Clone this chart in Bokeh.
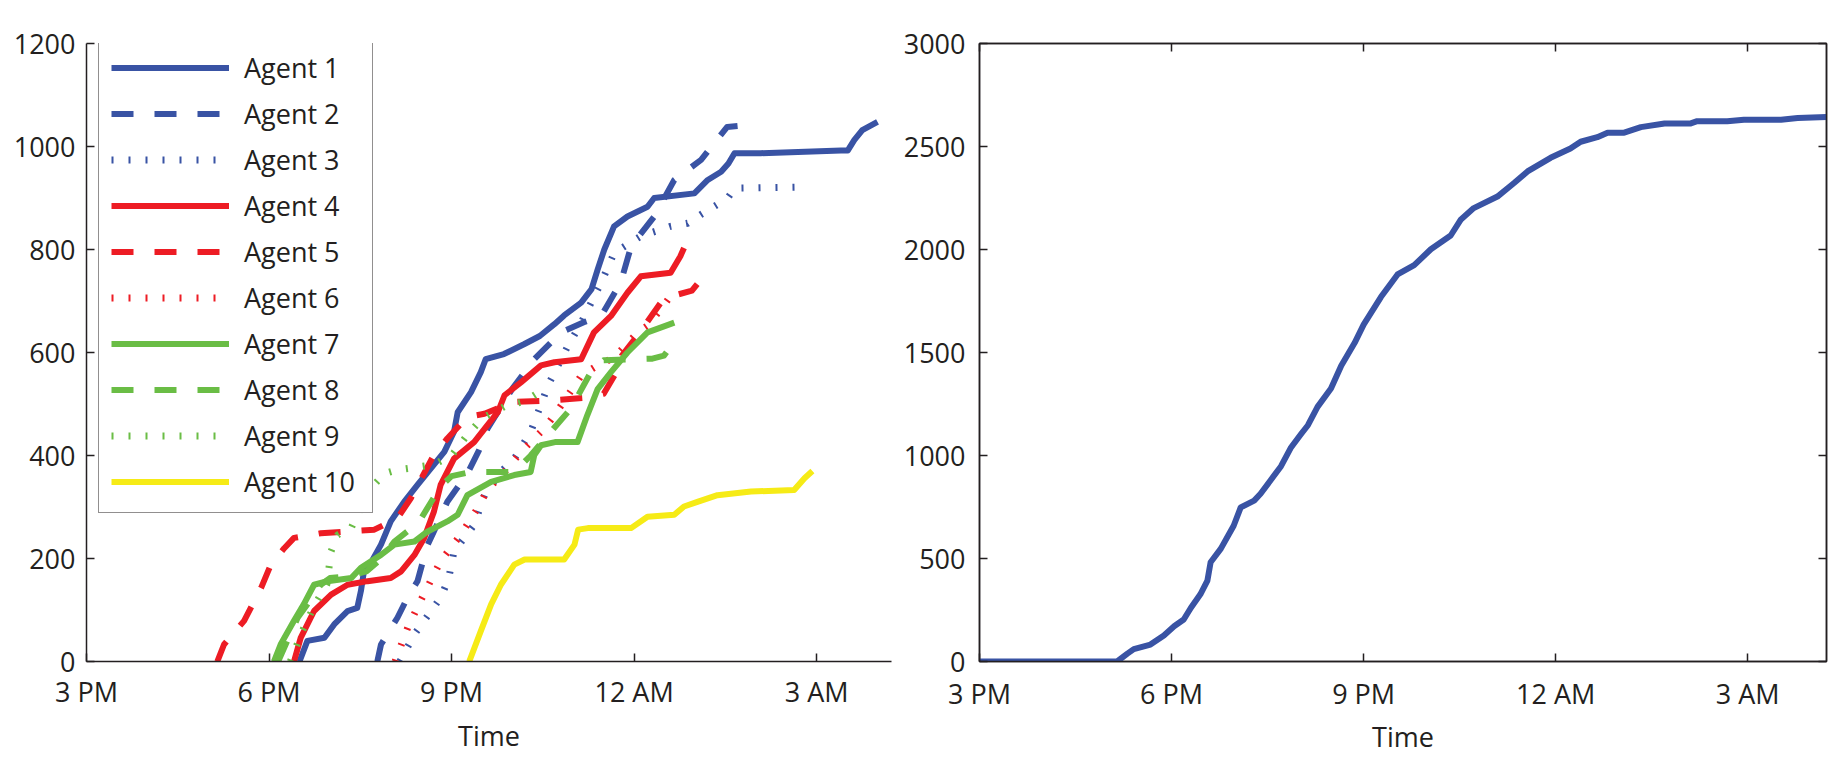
from bokeh.plotting import figure
from bokeh.models import Range1d, FixedTicker, LinearAxis, Legend, LegendItem
from bokeh.layouts import row
from bokeh.embed import file_html
from bokeh.resources import INLINE

# ---------------- data (time in hours; 15 = 3 PM, 24 = 12 AM, 27 = 3 AM) ----------------
x_ticks = [15, 18, 21, 24, 27]
x_tick_labels = ["3 PM", "6 PM", "9 PM", "12 AM", "3 AM"]
left_y_ticks = [0, 200, 400, 600, 800, 1000, 1200]
right_y_ticks = [0, 500, 1000, 1500, 2000, 2500, 3000]

agent_names = ["Agent 1", "Agent 2", "Agent 3", "Agent 4", "Agent 5",
               "Agent 6", "Agent 7", "Agent 8", "Agent 9", "Agent 10"]

a1_t = [18.50, 18.63, 18.91, 19.07, 19.29, 19.45, 19.51, 19.56, 19.70, 19.84, 20.00, 20.22, 20.44,
        20.66, 20.88, 21.04, 21.10, 21.32, 21.48, 21.56, 21.86, 22.19, 22.45, 22.69, 22.85, 23.13,
        23.30, 23.40, 23.51, 23.67, 23.89, 24.22, 24.33, 24.99, 25.21, 25.43, 25.55, 25.65, 26.08,
        27.40, 27.51, 27.62, 27.75, 28.00]
a1_v = [0, 40, 46, 72, 98, 104, 137, 175, 197, 227, 272, 310, 343,
        375, 407, 446, 484, 523, 562, 587, 597, 616, 632, 655, 672, 697,
        723, 761, 800, 845, 864, 883, 900, 909, 935, 951, 967, 987, 987,
        992, 992, 1013, 1032, 1048]

a2_t = [19.78, 19.84, 20.11, 20.30, 20.44, 20.60, 20.70, 20.93, 21.26, 21.45, 21.59, 22.00, 22.36,
        22.80, 23.20, 23.46, 23.78, 23.95, 24.33, 24.66, 25.10, 25.53, 25.70]
a2_v = [0, 33, 85, 130, 156, 225, 250, 310, 365, 410, 452, 530, 587,
        639, 660, 671, 736, 806, 864, 935, 974, 1038, 1040]

a3_t = [20.15, 20.39, 20.82, 20.95, 21.04, 21.37, 21.54, 21.81, 22.03, 22.30, 22.60, 22.90, 23.13,
        23.46, 23.67, 24.11, 24.60, 24.88, 25.10, 25.32, 25.54, 25.65, 26.74]
a3_v = [0, 53, 124, 160, 214, 265, 323, 368, 394, 446, 540, 610, 658,
        736, 793, 826, 845, 851, 868, 884, 900, 919, 921]

a4_t = [18.41, 18.52, 18.74, 19.02, 19.29, 19.62, 20.00, 20.17, 20.39, 20.55, 20.71, 20.82, 21.04,
        21.37, 21.59, 21.76, 21.87, 22.14, 22.47, 22.69, 23.13, 23.34, 23.62, 23.89, 24.11, 24.60,
        24.76, 24.82]
a4_v = [0, 46, 98, 130, 149, 156, 162, 175, 207, 240, 291, 343, 394,
        426, 459, 484, 517, 542, 575, 581, 587, 639, 671, 716, 748, 755,
        787, 803]

a5_t = [17.15, 17.26, 17.59, 17.87, 18.03, 18.25, 18.41, 18.85, 19.73, 20.11, 20.33, 20.71, 20.93,
        21.26, 21.54, 21.75, 22.03, 22.63, 23.20, 23.50, 23.70, 23.80, 24.10, 24.44, 24.70, 24.95,
        25.10]
a5_v = [0, 33, 79, 143, 188, 220, 240, 249, 256, 278, 317, 401, 433,
        475, 481, 491, 504, 507, 512, 520, 560, 594, 640, 697, 712, 720,
        742]

a6_t = [20.07, 20.28, 20.50, 20.82, 21.15, 21.43, 21.60, 21.87, 22.14, 22.52, 22.69, 23.13, 23.40,
        23.67, 24.06, 24.22, 24.44, 24.60, 24.75]
a6_v = [0, 66, 120, 195, 246, 298, 335, 368, 407, 452, 478, 555, 575,
        590, 639, 652, 684, 710, 712]

a7_t = [18.08, 18.19, 18.41, 18.57, 18.74, 18.96, 19.35, 19.51, 19.84, 20.06, 20.39, 20.60, 20.93,
        21.10, 21.26, 21.65, 22.03, 22.30, 22.36, 22.47, 22.70, 23.07, 23.23, 23.40, 23.62, 23.89,
        24.22, 24.66]
a7_v = [0, 33, 79, 111, 149, 156, 162, 182, 207, 227, 233, 252, 272,
        285, 323, 349, 362, 368, 401, 420, 426, 426, 478, 529, 562, 600,
        639, 658]

a8_t = [18.15, 18.30, 18.47, 18.63, 18.85, 19.00, 19.30, 19.60, 19.85, 20.06, 20.30, 20.50, 20.82,
        21.00, 21.32, 22.03, 22.30, 22.58, 22.96, 23.29, 23.50, 24.00, 24.30, 24.49, 24.66]
a8_v = [0, 40, 85, 111, 149, 162, 165, 175, 200, 233, 255, 278, 340,
        360, 368, 368, 400, 439, 491, 562, 585, 587, 588, 594, 620]

a9_t = [18.35, 18.55, 18.75, 18.95, 19.02, 19.13, 19.35, 19.45, 19.70, 19.90, 20.10, 20.35, 20.70,
        21.00, 21.26, 21.50, 21.90, 22.20, 22.40]
a9_v = [0, 60, 110, 150, 214, 246, 259, 285, 340, 365, 372, 376, 382,
        400, 440, 472, 497, 505, 520]

a10_t = [21.29, 21.48, 21.65, 21.81, 22.03, 22.20, 22.85, 23.02, 23.08, 23.24, 23.95, 24.22, 24.66,
         24.82, 25.04, 25.37, 25.92, 26.63, 26.80, 26.93]
a10_v = [0, 59, 111, 149, 188, 198, 198, 227, 256, 259, 259, 281, 285,
         301, 310, 323, 330, 333, 356, 370]

total_t = [15.00, 17.15, 17.31, 17.41, 17.67, 17.88, 18.04, 18.19, 18.30, 18.45, 18.56, 18.61, 18.77,
           18.97, 19.08, 19.29, 19.39, 19.55, 19.71, 19.86, 20.02, 20.13, 20.28, 20.49, 20.65, 20.86,
           21.00, 21.27, 21.53, 21.79, 22.05, 22.36, 22.52, 22.72, 23.09, 23.35, 23.56, 23.92, 24.23,
           24.39, 24.65, 24.81, 25.07, 25.33, 25.70, 26.11, 26.21, 26.68, 26.94, 27.52, 27.78, 28.23]
total_v = [0, 0, 38, 60, 82, 126, 171, 204, 260, 326, 393, 482, 548,
           659, 748, 781, 814, 881, 948, 1036, 1103, 1147, 1236, 1325, 1436, 1547,
           1635, 1769, 1879, 1924, 2001, 2068, 2146, 2201, 2257, 2323, 2379, 2445, 2490,
           2523, 2545, 2567, 2567, 2594, 2612, 2612, 2623, 2623, 2630, 2630, 2638, 2643]

agent_t = [a1_t, a2_t, a3_t, a4_t, a5_t, a6_t, a7_t, a8_t, a9_t, a10_t]
agent_v = [a1_v, a2_v, a3_v, a4_v, a5_v, a6_v, a7_v, a8_v, a9_v, a10_v]

# ---------------- styles ----------------
BLUE, RED, GREEN, YELLOW = "#3953a4", "#ed1c24", "#6abd45", "#f6eb16"
INK = "#231f20"
FONT = "Open Sans"
FS = "27px"
agent_colors = [BLUE, BLUE, BLUE, RED, RED, RED, GREEN, GREEN, GREEN, YELLOW]
SOLID, DASH, DOT = "solid", "22 21", "2 15"
agent_dash = [SOLID, DASH, DOT, SOLID, DASH, DOT, SOLID, DASH, DOT, SOLID]
agent_width = [6, 6, 7, 6, 6, 7, 6, 6, 7, 6]

X0, X1 = 15, 28.23
overrides = {t: s for t, s in zip(x_ticks, x_tick_labels)}


def style_axis(ax, ticks, labels=True):
    ax.ticker = FixedTicker(ticks=ticks)
    ax.axis_line_color = INK
    ax.axis_line_width = 1.5
    ax.major_tick_line_color = INK
    ax.major_tick_line_width = 1.5
    ax.major_tick_in = 8
    ax.major_tick_out = 0
    ax.minor_tick_line_color = None
    ax.major_label_text_font = FONT
    ax.major_label_text_color = INK
    ax.axis_label_text_font = FONT
    ax.axis_label_text_font_size = FS
    ax.axis_label_text_font_style = "normal"
    ax.axis_label_text_color = INK
    if labels:
        ax.major_label_text_font_size = FS
    else:
        ax.major_label_text_font_size = "1px"
        ax.major_label_text_color = None
        ax.major_label_standoff = 0


# ---------------- left figure ----------------
p1 = figure(width=895, height=757, x_range=Range1d(X0, X1), y_range=Range1d(0, 1200),
            output_backend="svg", toolbar_location=None,
            min_border_left=86, min_border_right=4, min_border_top=43, min_border_bottom=93)
p1.outline_line_color = None
p1.grid.visible = False
p1.background_fill_color = "white"
style_axis(p1.xaxis[0], x_ticks)
p1.xaxis[0].major_label_overrides = overrides
p1.xaxis[0].major_label_standoff = 11
p1.xaxis[0].axis_label = "Time"
p1.xaxis[0].axis_label_standoff = 4
style_axis(p1.yaxis[0], left_y_ticks)
p1.yaxis[0].major_label_standoff = 11

items = []
for name, t, v, c, d, w in zip(agent_names, agent_t, agent_v, agent_colors, agent_dash, agent_width):
    r = p1.line(t, v, line_color=c, line_width=w, line_dash=d, line_cap="butt", line_join="round")
    items.append(LegendItem(label=name, renderers=[r]))

legend = Legend(items=items, location=(12, 148))
legend.border_line_color = INK
legend.border_line_width = 1.5
legend.background_fill_color = "white"
legend.background_fill_alpha = 1.0
legend.label_text_font = FONT
legend.label_text_font_size = FS
legend.label_text_color = INK
legend.glyph_width = 118
legend.glyph_height = 37
legend.label_height = 37
legend.label_width = 116
legend.label_standoff = 15
legend.spacing = 9
legend.padding = 12
legend.margin = 0
p1.add_layout(legend)

# ---------------- right figure ----------------
p2 = figure(width=939, height=757, x_range=Range1d(X0, X1), y_range=Range1d(0, 3000),
            output_backend="svg", toolbar_location=None,
            min_border_left=84, min_border_right=8, min_border_top=24, min_border_bottom=82)
p2.grid.visible = False
p2.outline_line_color = INK
p2.outline_line_width = 1.5
style_axis(p2.xaxis[0], x_ticks)
p2.xaxis[0].major_label_overrides = overrides
p2.xaxis[0].major_label_standoff = 13
p2.xaxis[0].axis_label = "Time"
p2.xaxis[0].axis_label_standoff = 3
style_axis(p2.yaxis[0], right_y_ticks)
p2.yaxis[0].major_label_standoff = 14

top_ax = LinearAxis()
style_axis(top_ax, x_ticks, labels=False)
p2.add_layout(top_ax, "above")
right_ax = LinearAxis()
style_axis(right_ax, right_y_ticks, labels=False)
p2.add_layout(right_ax, "right")

p2.line(total_t, total_v, line_color=BLUE, line_width=6, line_join="round")

layout = row(p1, p2)
open("out.html", "w").write(file_html(layout, INLINE))
